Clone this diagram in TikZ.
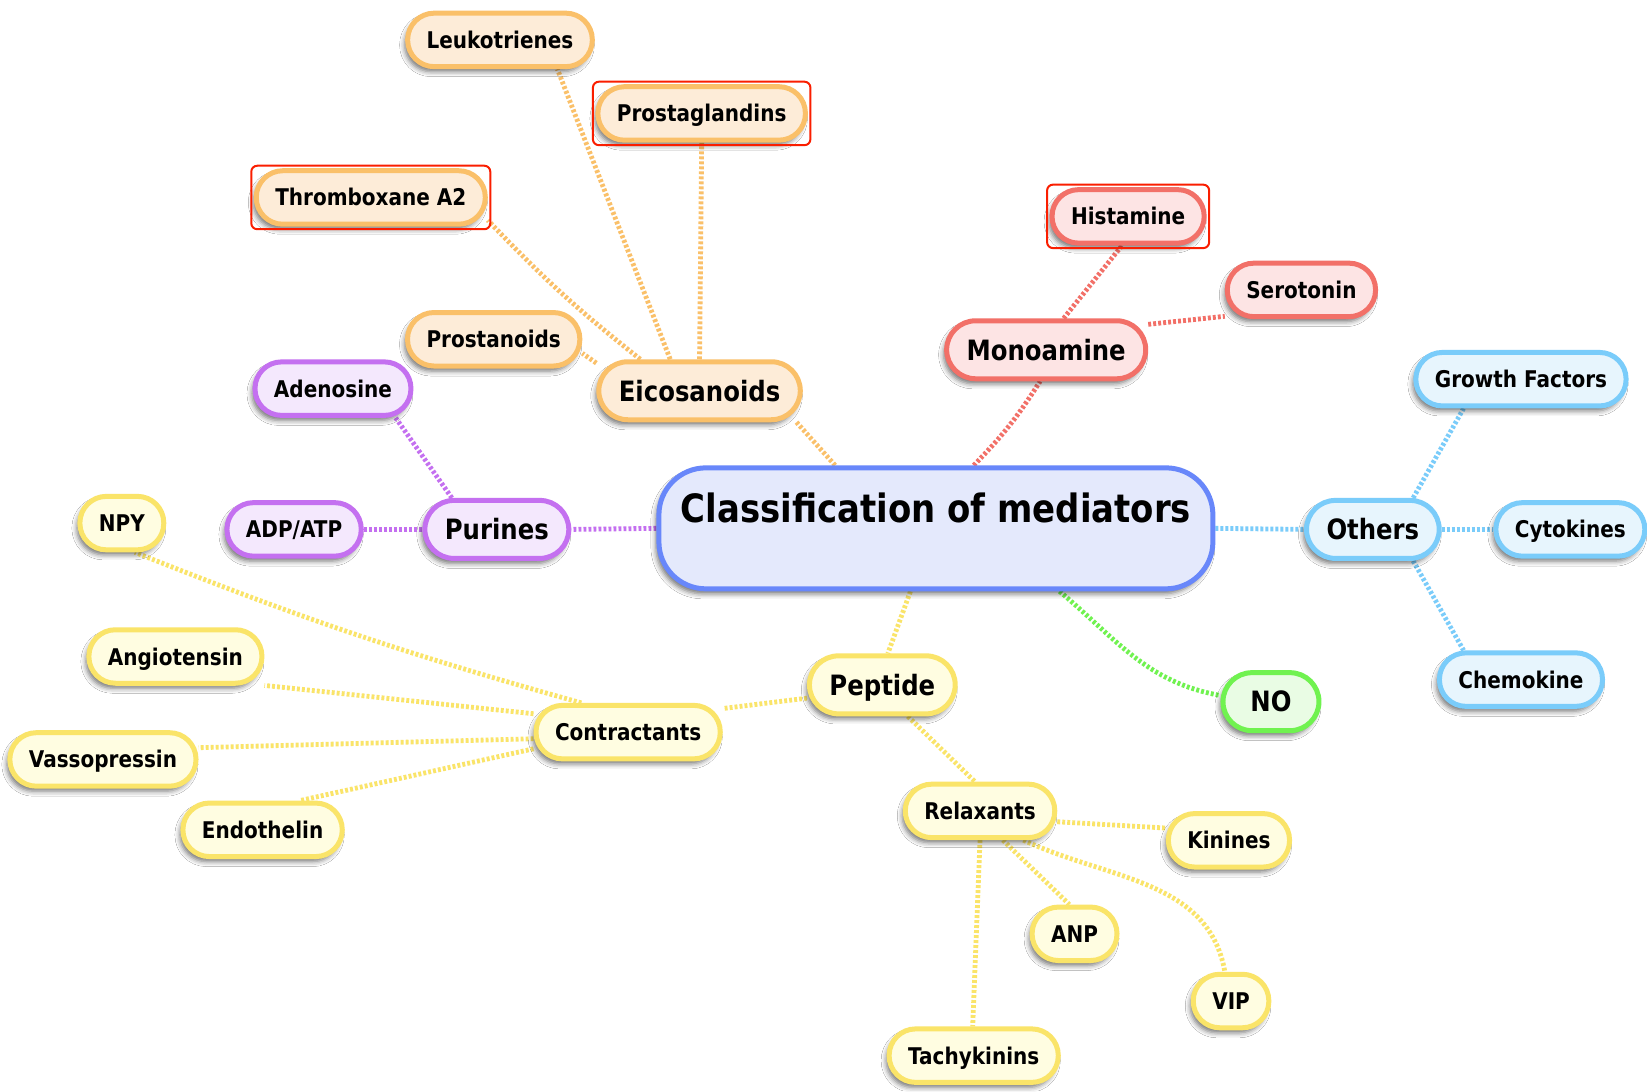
\documentclass[tikz,border=0pt]{standalone}
\usepackage{fontspec}
\newfontfamily\mapfont[FakeStretch=0.87]{DejaVu Sans}
\usetikzlibrary{shadows.blur,fit}
\pgfdeclarelayer{background}
\pgfsetlayers{background,main}
\definecolor{OrB}{RGB}{250,192,105}
\definecolor{OrF}{RGB}{253,236,216}
\definecolor{ReB}{RGB}{242,112,104}
\definecolor{ReF}{RGB}{253,228,228}
\definecolor{PuB}{RGB}{196,112,240}
\definecolor{PuF}{RGB}{244,232,253}
\definecolor{BlB}{RGB}{122,204,250}
\definecolor{BlF}{RGB}{231,245,253}
\definecolor{GrB}{RGB}{112,242,80}
\definecolor{GrF}{RGB}{233,252,228}
\definecolor{YeB}{RGB}{250,228,105}
\definecolor{YeF}{RGB}{255,253,225}
\definecolor{CeB}{RGB}{104,135,250}
\definecolor{CeF}{RGB}{228,233,252}
\definecolor{FrameRed}{RGB}{250,30,0}
\tikzset{
  base/.style={draw, line width=5pt, blur shadow={shadow xshift=-3pt, shadow yshift=-5pt, shadow blur radius=5pt, shadow opacity=55}},
  leaf/.style={base, rounded corners=26.5pt, minimum height=53.5pt, inner xsep=19pt, inner ysep=0pt,
    text height=17pt, text depth=0pt, font=\mapfont\bfseries\fontsize{23}{27}\selectfont},
  branch/.style={base, rounded corners=29pt, minimum height=58pt, inner xsep=20pt, inner ysep=0pt,
    text height=20.5pt, text depth=0pt, font=\mapfont\bfseries\fontsize{28}{33}\selectfont},
  rootbox/.style={base, rounded corners=47pt, minimum width=554pt, inner sep=0pt,
    text height=54.5pt, text depth=66.5pt, font=\mapfont\bfseries\fontsize{39}{45}\selectfont,
    draw=CeB, fill=CeF},
  orn/.style={draw=OrB, fill=OrF},
  redn/.style={draw=ReB, fill=ReF},
  purn/.style={draw=PuB, fill=PuF},
  blun/.style={draw=BlB, fill=BlF},
  grn/.style={draw=GrB, fill=GrF},
  yen/.style={draw=YeB, fill=YeF},
  redframe/.style={draw=FrameRed, line width=2pt, rounded corners=6pt, inner sep=2.5pt},
  conn/.style={line width=4.8pt, dash pattern=on 2.9pt off 2.1pt},
}
\begin{document}
\begin{tikzpicture}[x=1.0504pt, y=-1.0504pt]
\useasboundingbox (0,0) rectangle (1568,1039);

% root
\node[rootbox] (root) at (891,503) {Classification of mediators};

% eicosanoids
\node[branch, orn] (eico) at (666,372) {Eicosanoids};
\node[leaf, orn] (leuk) at (476,38) {Leukotrienes};
\node[leaf, orn] (prgl) at (668,108) {Prostaglandins};
\node[leaf, orn] (thromb) at (353,188) {Thromboxane A2};
\node[leaf, orn] (pran) at (470,323) {Prostanoids};

% monoamine
\node[branch, redn] (mono) at (996,333) {Monoamine};
\node[leaf, redn] (hist) at (1074,206) {Histamine};
\node[leaf, redn] (sero) at (1239,276) {Serotonin};

% purines
\node[branch, purn] (pur) at (473,504) {Purines};
\node[leaf, purn] (aden) at (317,370) {Adenosine};
\node[leaf, purn] (adp) at (280,504) {ADP/ATP};

% others
\node[branch, blun] (oth) at (1307,504) {Others};
\node[leaf, blun] (grow) at (1448,361) {Growth Factors};
\node[leaf, blun] (cyto) at (1495,504) {Cytokines};
\node[leaf, blun] (chem) at (1448,647) {Chemokine};

% NO
\node[branch, grn, minimum width=96pt] (no) at (1210,668) {NO};

% peptide
\node[branch, yen] (pep) at (840,652) {Peptide};
\node[leaf, yen] (contr) at (598,697) {Contractants};
\node[leaf, yen] (npy) at (116,498) {NPY};
\node[leaf, yen] (angio) at (167,625) {Angiotensin};
\node[leaf, yen] (vaso) at (98,723) {Vassopressin};
\node[leaf, yen] (endo) at (250,790) {Endothelin};
\node[leaf, yen] (relax) at (933,772) {Relaxants};
\node[leaf, yen] (kin) at (1170,800) {Kinines};
\node[leaf, yen] (anp) at (1023,889) {ANP};
\node[leaf, yen] (vip) at (1172,953) {VIP};
\node[leaf, yen] (tachy) at (927,1005) {Tachykinins};

% red selection frames
\node[redframe, fit=(prgl)] (prglframe) {};
\node[redframe, fit=(thromb)] (thrombframe) {};
\node[redframe, fit=(hist)] (histframe) {};

\begin{pgfonlayer}{background}
\fill[white] (0,0) rectangle (1568,1039);
% orange
\draw[conn, draw=OrB] (root.148) -- (eico.-18);
\draw[conn, draw=OrB] (eico.133) -- (leuk.-27);
\draw[conn, draw=OrB] (eico.90) -- (prgl.-90);
\draw[conn, draw=OrB] (eico.152) to[bend left=4] (thromb.-11);
\draw[conn, draw=OrB] (eico.165) -- (pran.-9);
% red
\draw[conn, draw=ReB] (root.59) to[bend right=6] (mono.-101);
\draw[conn, draw=ReB] (mono.61) -- (hist.-102);
\draw[conn, draw=ReB] (mono.14) -- (sero.-161);
% purple
\draw[conn, draw=PuB] (root.180) -- (pur.0);
\draw[conn, draw=PuB] (pur.145) -- (aden.-25);
\draw[conn, draw=PuB] (pur.180) -- (adp.0);
% blue
\draw[conn, draw=BlB] (root.0) -- (oth.180);
\draw[conn, draw=BlB] (oth.38) -- (grow.-153);
\draw[conn, draw=BlB] (oth.0) -- (cyto.180);
\draw[conn, draw=BlB] (oth.-38) -- (chem.153);
% green
\draw[conn, draw=GrB] (root.-27.5) to[out=-40, in=170] (no.173);
% yellow
\draw[conn, draw=YeB] (root.-112) -- (pep.80);
\draw[conn, draw=YeB] (pep.-170) -- (contr.14);
\draw[conn, draw=YeB] (contr.148) to[bend left=3] (npy.-66);
\draw[conn, draw=YeB] (contr.169) -- (angio.-18);
\draw[conn, draw=YeB] (contr.-176) -- (vaso.7);
\draw[conn, draw=YeB] (contr.-170) -- (endo.38);
\draw[conn, draw=YeB] (pep.-51) -- (relax.100);
\draw[conn, draw=YeB] (relax.-8) -- (kin.169);
\draw[conn, draw=YeB] (relax.-52) -- (anp.100);
\draw[conn, draw=YeB] (relax.-34) to[out=-25, in=100] (vip.102);
\draw[conn, draw=YeB] (relax.-90) -- (tachy.92);
\end{pgfonlayer}
\end{tikzpicture}
\end{document}
